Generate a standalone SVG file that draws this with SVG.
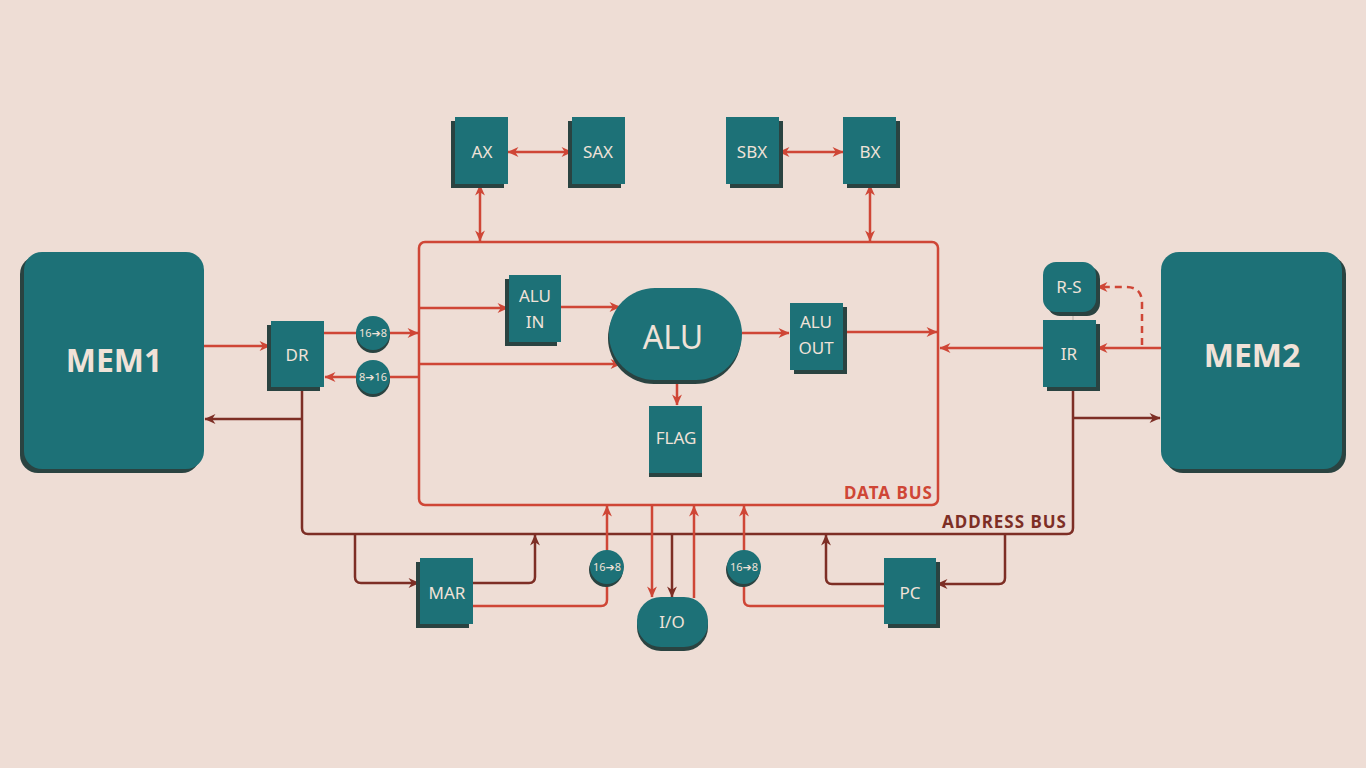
<svg xmlns="http://www.w3.org/2000/svg" width="1366" height="768" viewBox="0 0 1366 768">
<style>
.bg{fill:#eeddd5}
.nd{fill:#1d7177}
.sh{fill:#2a4341}
.t{fill:#f0e2d8;font-family:"Noto Sans","DejaVu Sans",sans-serif;text-anchor:middle}
.m{font-size:17px}
.big{font-size:32px;font-weight:bold}
.s{font-size:11px}
.r{fill:none;stroke:#cf4636;stroke-width:2.5}
.d{fill:none;stroke:#7d2e25;stroke-width:2.5}
.ra{marker-end:url(#ar)}
.da{marker-end:url(#ad)}
.lbl{font-family:"Noto Sans","DejaVu Sans",sans-serif;font-size:17px;font-weight:bold;text-anchor:end;letter-spacing:1px}
</style>
<defs>
<marker id="ar" viewBox="0 0 10 10" refX="9.5" refY="5" markerWidth="13" markerHeight="11" markerUnits="userSpaceOnUse" orient="auto-start-reverse">
<path d="M0,0.5 L10,5 L0,9.5 L3,5 z" fill="#cf4636"/>
</marker>
<marker id="ad" viewBox="0 0 10 10" refX="9.5" refY="5" markerWidth="13" markerHeight="11" markerUnits="userSpaceOnUse" orient="auto-start-reverse">
<path d="M0,0.5 L10,5 L0,9.5 L3,5 z" fill="#7d2e25"/>
</marker>
</defs>
<rect class="bg" x="0" y="0" width="1366" height="768"/>

<g id="connectors">
<rect x="419" y="242" width="519" height="263" rx="6" class="r"/>
<text class="lbl" x="933" y="499" fill="#cf4636">DATA BUS</text>
<path class="d" d="M302,387 V528 Q302,534 308,534 H1067 Q1073,534 1073,528 V387"/>
<text class="lbl" x="1067" y="528" fill="#7d2e25">ADDRESS BUS</text>
<path class="r" d="M508,152 H572" marker-start="url(#ar)" marker-end="url(#ar)"/>
<path class="r" d="M779,152 H843" marker-start="url(#ar)" marker-end="url(#ar)"/>
<path class="r" d="M480,185 V241" marker-start="url(#ar)" marker-end="url(#ar)"/>
<path class="r" d="M870,185 V241" marker-start="url(#ar)" marker-end="url(#ar)"/>
<path class="r ra" d="M204,346 H270"/>
<path class="r ra" d="M324,333 H418"/>
<path class="r ra" d="M419,377 H325"/>
<path class="r ra" d="M419,308 H508"/>
<path class="r ra" d="M419,364 H621"/>
<path class="r ra" d="M561,307 H620"/>
<path class="r ra" d="M677,381 V405"/>
<path class="r ra" d="M742,333 H789"/>
<path class="r ra" d="M843,332 H937"/>
<path class="r ra" d="M1043,348 H940"/>
<path class="r ra" d="M1161,348 H1097"/>
<path class="r ra" d="M1142,345 V303 Q1142,287 1126,287 H1097" stroke-width="3" stroke-dasharray="7 5"/>
<path d="M1073,312 V320" stroke="#b8aca5" stroke-width="1" fill="none"/>
<path class="d da" d="M302,419 H205"/>
<path class="d da" d="M1073,418 H1160"/>
<path class="d da" d="M355,534 V577 Q355,583 361,583 H419"/>
<path class="d da" d="M473,583 H529 Q535,583 535,577 V535"/>
<path class="r ra" d="M473,606 H601 Q607,606 607,600 V506"/>
<path class="r ra" d="M652,505 V597"/>
<path class="d da" d="M672,534 V597"/>
<path class="r ra" d="M694,598 V506"/>
<path class="r ra" d="M884,606 H750 Q744,606 744,600 V506"/>
<path class="d da" d="M884,584 H832 Q826,584 826,578 V535"/>
<path class="d da" d="M1005,534 V578 Q1005,584 999,584 H937"/>
</g>

<g id="mem1"><rect class="sh" x="20" y="256" width="180" height="217" rx="18"/><rect class="nd" x="24" y="252" width="180" height="217" rx="18"/><text class="t big" x="114" y="372">MEM1</text></g>
<g id="mem2"><rect class="sh" x="1165" y="256" width="181" height="217" rx="18"/><rect class="nd" x="1161" y="252" width="181" height="217" rx="18"/><text class="t big" x="1252" y="367">MEM2</text></g>
<g id="ax"><rect class="sh" x="451" y="121" width="53" height="67"/><rect class="nd" x="455" y="117" width="53" height="67"/><text class="t m" x="482" y="158">AX</text></g>
<g id="sax"><rect class="sh" x="568" y="121" width="53" height="67"/><rect class="nd" x="572" y="117" width="53" height="67"/><text class="t m" x="598" y="158">SAX</text></g>
<g id="sbx"><rect class="sh" x="730" y="121" width="53" height="67"/><rect class="nd" x="726" y="117" width="53" height="67"/><text class="t m" x="752" y="158">SBX</text></g>
<g id="bx"><rect class="sh" x="847" y="121" width="53" height="67"/><rect class="nd" x="843" y="117" width="53" height="67"/><text class="t m" x="870" y="158">BX</text></g>
<g id="dr"><rect class="sh" x="267" y="325" width="53" height="66"/><rect class="nd" x="271" y="321" width="53" height="66"/><text class="t m" x="297" y="361">DR</text></g>
<g id="c168a"><circle class="sh" cx="373" cy="336" r="17"/><circle class="nd" cx="373" cy="333" r="17"/><text class="t s" x="373" y="337">16➔8</text></g>
<g id="c816"><circle class="sh" cx="373" cy="380" r="17"/><circle class="nd" cx="373" cy="377" r="17"/><text class="t s" x="373" y="381">8➔16</text></g>
<g id="aluin"><rect class="sh" x="505" y="279" width="52" height="67"/><rect class="nd" x="509" y="275" width="52" height="67"/><text class="t m" x="535" y="302">ALU</text><text class="t m" x="535" y="328">IN</text></g>
<g id="alu"><rect class="sh" x="608" y="292" width="133" height="92" rx="46"/><rect class="nd" x="609" y="288" width="133" height="92" rx="46"/><text class="t" x="673" y="349" style="font-size:32px">ALU</text></g>
<g id="flag"><rect class="sh" x="649" y="410" width="53" height="67"/><rect class="nd" x="649" y="406" width="53" height="67"/><text class="t m" x="676" y="444">FLAG</text></g>
<g id="aluout"><rect class="sh" x="794" y="307" width="53" height="67"/><rect class="nd" x="790" y="303" width="53" height="67"/><text class="t m" x="816" y="328">ALU</text><text class="t m" x="816" y="354">OUT</text></g>
<g id="rs"><rect class="sh" x="1047" y="266" width="53" height="50" rx="13"/><rect class="nd" x="1043" y="262" width="53" height="50" rx="13"/><text class="t m" x="1069" y="293">R-S</text></g>
<g id="ir"><rect class="sh" x="1047" y="324" width="53" height="67"/><rect class="nd" x="1043" y="320" width="53" height="67"/><text class="t m" x="1069" y="360">IR</text></g>
<g id="mar"><rect class="sh" x="416" y="562" width="53" height="66"/><rect class="nd" x="420" y="558" width="53" height="66"/><text class="t m" x="447" y="599">MAR</text></g>
<g id="c168b"><circle class="sh" cx="606" cy="570" r="17"/><circle class="nd" cx="607" cy="567" r="17"/><text class="t s" x="607" y="571">16➔8</text></g>
<g id="io"><rect class="sh" x="637" y="601" width="71" height="50" rx="24"/><rect class="nd" x="637" y="597" width="71" height="50" rx="24"/><text class="t m" x="672" y="628">I/O</text></g>
<g id="c168c"><circle class="sh" cx="743" cy="570" r="17"/><circle class="nd" cx="744" cy="567" r="17"/><text class="t s" x="744" y="571">16➔8</text></g>
<g id="pc"><rect class="sh" x="888" y="562" width="52" height="66"/><rect class="nd" x="884" y="558" width="52" height="66"/><text class="t m" x="910" y="599">PC</text></g>
</svg>
